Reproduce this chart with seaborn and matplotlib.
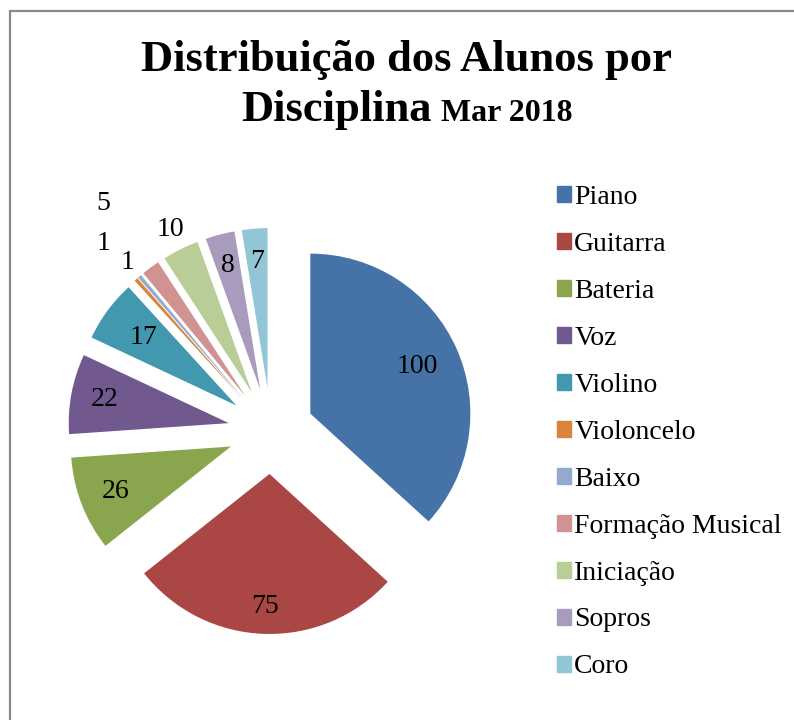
import matplotlib
matplotlib.use("Agg")
import matplotlib.pyplot as plt
from matplotlib.patches import Rectangle
import numpy as np
import seaborn as sns

# data
disciplinas = ["Piano", "Guitarra", "Bateria", "Voz", "Violino", "Violoncelo",
               "Baixo", "Formação Musical", "Iniciação", "Sopros", "Coro"]
alunos = [100, 75, 26, 22, 17, 1, 1, 5, 10, 8, 7]
cores = ["#4572A7", "#AA4643", "#89A54E", "#71588F", "#4198AF", "#DB843D",
         "#93A9CF", "#D19392", "#B9CD96", "#A99BBD", "#92C5D5"]

# layout (distance of each value label from the pie centre, in radii)
label_dist = [1.0, 1.1, 1.04, 1.06, 0.99, 1.57, 1.38, 1.77, 1.41, 1.07, 1.06]

sns.set_theme(style="white")
plt.rcParams["font.family"] = ["Liberation Serif", "DejaVu Serif"]
plt.rcParams["text.color"] = "black"

W, H = 794, 720
fig = plt.figure(figsize=(W / 100, H / 100), dpi=100)
ax = fig.add_axes([0, 0, 1, 1])

cx, cy, R = 271, H - 431, 160
palette = sns.color_palette(cores)
# explode is in data units here (axes are in pixels)
wedges, _ = ax.pie(alunos, colors=palette, startangle=90, counterclock=False,
                   explode=[43] * len(alunos), radius=R, center=(cx, cy),
                   wedgeprops=dict(linewidth=0))
ax.set_xlim(0, W)
ax.set_ylim(0, H)
ax.set_aspect("equal")
ax.axis("off")

for w, v, d in zip(wedges, alunos, label_dist):
    th = np.deg2rad((w.theta1 + w.theta2) / 2)
    ax.text(cx + d * R * np.cos(th), cy + d * R * np.sin(th), str(v),
            ha="center", va="center", fontsize=20, color="black")

# title (two sizes on the second line)
fig.text(407 / W, 1 - 71 / H, "Distribuição dos Alunos por", ha="center",
         va="baseline", fontsize=32, fontweight="bold")
renderer = fig.canvas.get_renderer()
t1 = fig.text(0, 1 - 121 / H, "Disciplina", ha="left", va="baseline",
              fontsize=32, fontweight="bold")
t2 = fig.text(0, 1 - 121 / H, "Mar 2018", ha="left", va="baseline",
              fontsize=23, fontweight="bold")
w1 = t1.get_window_extent(renderer).width
w2 = t2.get_window_extent(renderer).width
gap = 9
x0 = 407 - (w1 + gap + w2) / 2
t1.set_x(x0 / W)
t2.set_x((x0 + w1 + gap) / W)

# legend
handles = [Rectangle((0, 0), 1, 1, color=c) for c in palette]
leg = fig.legend(handles, disciplinas, loc="upper left",
                 bbox_to_anchor=(557 / W, 1 - 185 / H), frameon=False,
                 fontsize=20, handlelength=0.52, handleheight=0.52,
                 handletextpad=0.1, labelspacing=0.79, borderpad=0,
                 borderaxespad=0)
for t in leg.get_texts():
    t.set_color("black")

# chart area border (cropped on right and bottom)
fig.add_artist(Rectangle((10 / W, -0.1), 2, (H - 11) / H + 0.1,
                         transform=fig.transFigure, fill=False,
                         ec="#888888", lw=1.6))

fig.savefig("out.png", dpi=100)
